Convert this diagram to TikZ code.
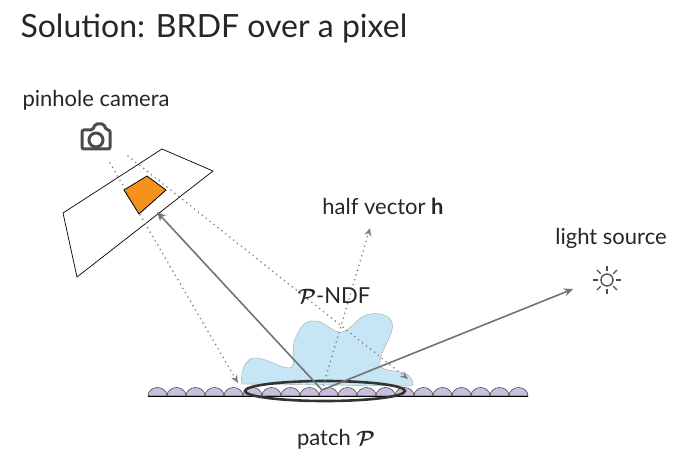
\documentclass[tikz,border=0pt]{standalone}
\usepackage{fontspec}
\setmainfont{Lato}
\usepackage{amsmath,bm}
\usetikzlibrary{arrows.meta}
\definecolor{bump}{RGB}{200,190,222}
\definecolor{blob}{RGB}{198,230,246}
\definecolor{pix}{RGB}{245,146,30}
\begin{document}
\begin{tikzpicture}[x=1pt,y=-1pt,
  ray/.style={gray!90!black,line width=1.6pt,-{Stealth[length=9pt,width=8pt]}},
  dray/.style={gray,line width=1.8pt,line cap=round,dash pattern=on 0pt off 5pt,-{Stealth[length=8pt,width=7pt,line cap=butt,line width=0pt]}},
  lbl/.style={font=\fontsize{22}{26}\selectfont,text=black!85}]
\useasboundingbox (0,0) rectangle (687,462);
\node[anchor=west,font=\fontsize{32}{38}\selectfont,text=black!85] (title) at (17,28) {Solution: BRDF over a pixel};
\node[lbl] (cam) at (96,100) {pinhole camera};
% camera icon
\begin{scope}[shift={(96,137)},gray!60!black,line width=3pt]
\draw[rounded corners=2pt] (-14,-7) -- (-3,-7) -- (-1,-13) -- (8,-13) -- (10,-7) -- (14,-7) -- (14,12) -- (-14,12) -- cycle;
\draw (0,3) circle (7);
\end{scope}
% film plane
\draw[line width=0.7pt] (63,213) -- (162,149) -- (213,171) -- (77,277) -- cycle;
\draw[fill=pix,line width=0.8pt] (124,190) -- (147,176) -- (166,190) -- (139,214) -- cycle;
% blob
\draw[fill=blob,draw=gray!70] (242,384) .. controls (240,372) and (245,360) .. (253,358)
  .. controls (265,356) and (285,372) .. (292,367)
  .. controls (296,360) and (290,345) .. (297,335)
  .. controls (302,322) and (310,320) .. (316,321)
  .. controls (326,322) and (334,334) .. (342,332)
  .. controls (352,330) and (358,315) .. (370,314)
  .. controls (385,312) and (395,318) .. (392,330)
  .. controls (389,342) and (378,355) .. (380,366)
  .. controls (384,372) and (402,370) .. (408,375)
  .. controls (414,380) and (413,384) .. (412,386) -- cycle;
% bumps
\foreach \i in {0,...,19}{
  \draw[fill=bump,draw=gray!60!black,line width=0.6pt] ({148+19*\i},396) arc (180:360:9.5 and 8.5) -- cycle;}
\draw[line width=0.8pt] (148,396) -- (528,396);
% patch ellipse
\draw[gray!40!black,line width=2.6pt] (325,391) ellipse (80 and 10);
\coordinate (p) at (322,390);
\coordinate (pix) at (157,212);
\coordinate (light) at (573,289);
\coordinate (h) at (370,228);
\coordinate (d1s) at (110,163);
\coordinate (d1e) at (238,383);
\coordinate (d2s) at (128,156);
\coordinate (d2e) at (408,379);
\draw[ray] (p) -- (pix);
\draw[ray] (p) -- (light);
\draw[dray] (p) -- (h);
\draw[dray] (d1s) -- (d1e);
\draw[dray] (d2s) -- (d2e);
% sun
\begin{scope}[shift={(607,280)},gray!60!black,line width=1.3pt]
\draw (0,0) circle (6);
\foreach \a in {0,45,...,315} \draw (\a:9) -- (\a:14);
\end{scope}
\node[lbl] (ls) at (611,238) {light source};
\node[lbl] (hv) at (383,206) {half vector \textbf{h}};
\node[lbl] (ndf) at (334,296) {$\bm{\mathcal{P}}$-NDF};
\node[lbl] (patch) at (336,439) {patch $\bm{\mathcal{P}}$};
\end{tikzpicture}
\end{document}
